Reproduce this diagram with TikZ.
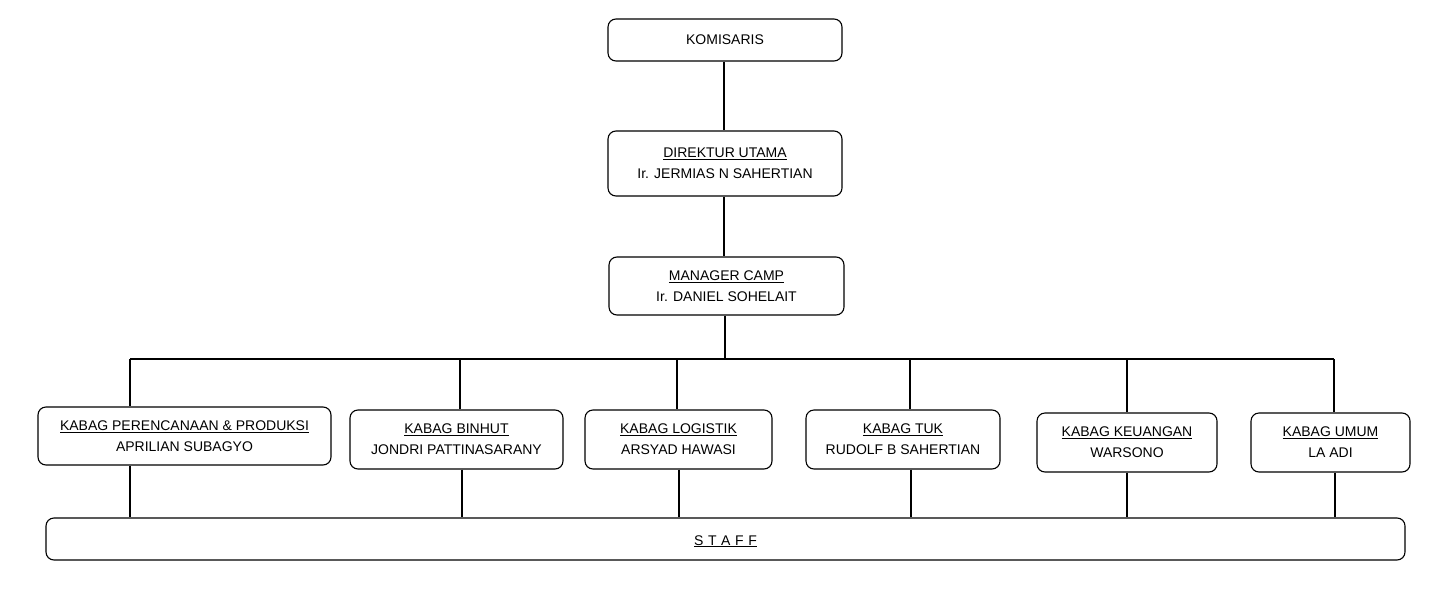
\documentclass[tikz,border=0pt]{standalone}
\usepackage{fontspec}
\setmainfont{Liberation Sans}
\begin{document}
\begin{tikzpicture}[x=1pt,y=-1pt,
  box/.style={draw, rounded corners=8pt, line width=1.1pt, align=center,
    inner sep=0pt, font=\fontsize{14}{21}\selectfont},
  link/.style={line width=1.5pt}]
\useasboundingbox (0,0) rectangle (1442,589);
\node[box, minimum width=234pt, minimum height=42pt] (kom) at (725,40) {KOMISARIS};
\node[box, minimum width=234pt, minimum height=65pt] (dir) at (725,163.5) {\underline{DIREKTUR UTAMA}\\Ir. JERMIAS N SAHERTIAN};
\node[box, minimum width=235pt, minimum height=58pt] (man) at (726.5,286) {\underline{MANAGER CAMP}\\Ir. DANIEL SOHELAIT};
\node[box, minimum width=293pt, minimum height=58pt] (k1) at (184.5,436) {\underline{KABAG PERENCANAAN \& PRODUKSI}\\APRILIAN SUBAGYO};
\node[box, minimum width=213pt, minimum height=59pt] (k2) at (456.5,439.5) {\underline{KABAG BINHUT}\\JONDRI PATTINASARANY};
\node[box, minimum width=187pt, minimum height=59pt] (k3) at (678.5,439.5) {\underline{KABAG LOGISTIK}\\ARSYAD HAWASI};
\node[box, minimum width=194pt, minimum height=59pt] (k4) at (903,439.5) {\underline{KABAG TUK}\\RUDOLF B SAHERTIAN};
\node[box, minimum width=180pt, minimum height=59pt] (k5) at (1127,442.5) {\underline{KABAG KEUANGAN}\\WARSONO};
\node[box, minimum width=159pt, minimum height=59pt] (k6) at (1330.5,442.5) {\underline{KABAG UMUM}\\LA ADI};
\node[box, minimum width=1359pt, minimum height=42pt] (staff) at (725.5,539) {\raisebox{-6pt}[0pt][0pt]{\underline{S\,\,T\,\,A\,\,F\,\,F}}};
% upper chain
\coordinate (c1) at (724,100);
\coordinate (bm) at (725,359);
\draw[link] (c1 |- kom.south) -- (c1 |- dir.north);
\draw[link] (c1 |- dir.south) -- (c1 |- man.north);
\draw[link] (bm |- man.south) -- (bm);
\coordinate (bl) at (130,359);
\coordinate (br) at (1334,359);
\draw[link] (bl) -- (br);
% drops to kabag boxes
\coordinate (t1) at (130,359);
\coordinate (t2) at (460,359);
\coordinate (t3) at (677,359);
\coordinate (t4) at (910,359);
\coordinate (t5) at (1127,359);
\coordinate (t6) at (1334,359);
\draw[link] (t1) -- (t1 |- k1.north);
\draw[link] (t2) -- (t2 |- k2.north);
\draw[link] (t3) -- (t3 |- k3.north);
\draw[link] (t4) -- (t4 |- k4.north);
\draw[link] (t5) -- (t5 |- k5.north);
\draw[link] (t6) -- (t6 |- k6.north);
% drops to staff
\coordinate (s1) at (130,518);
\coordinate (s2) at (462,518);
\coordinate (s3) at (679,518);
\coordinate (s4) at (911,518);
\coordinate (s5) at (1127,518);
\coordinate (s6) at (1335,518);
\draw[link] (s1 |- k1.south) -- (s1 |- staff.north);
\draw[link] (s2 |- k2.south) -- (s2 |- staff.north);
\draw[link] (s3 |- k3.south) -- (s3 |- staff.north);
\draw[link] (s4 |- k4.south) -- (s4 |- staff.north);
\draw[link] (s5 |- k5.south) -- (s5 |- staff.north);
\draw[link] (s6 |- k6.south) -- (s6 |- staff.north);
\end{tikzpicture}
\end{document}
